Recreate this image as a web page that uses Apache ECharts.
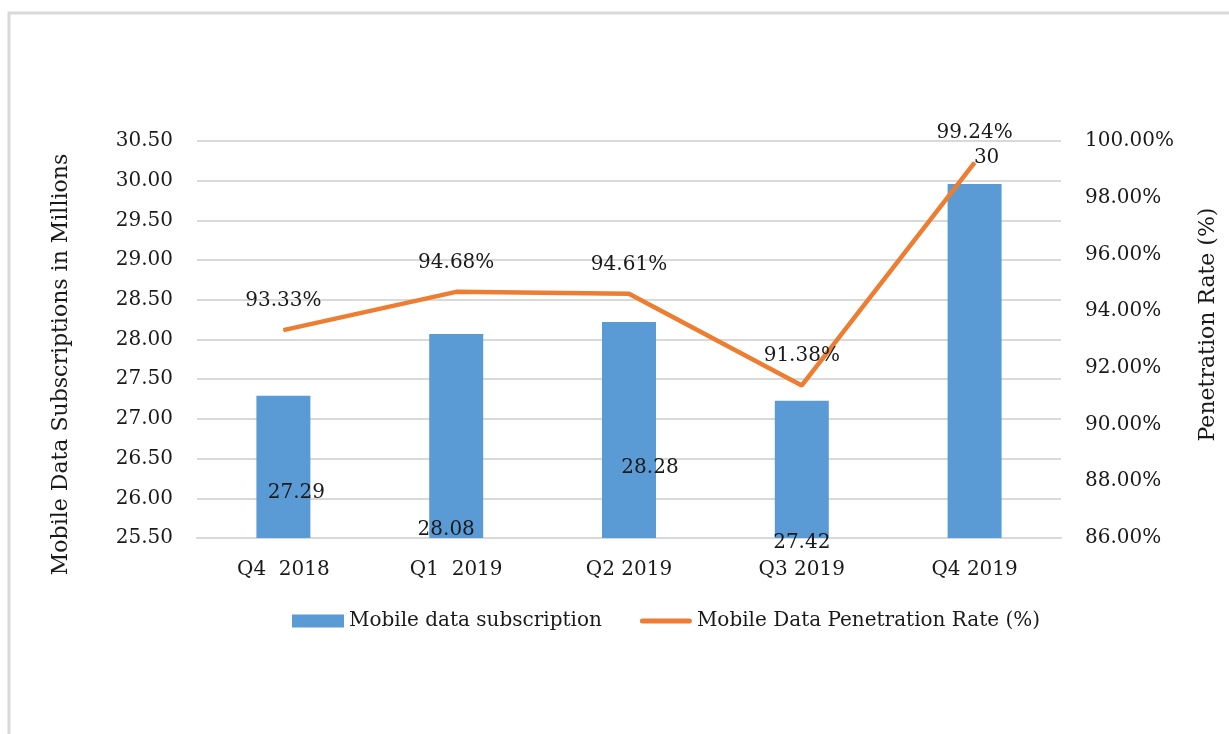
<!DOCTYPE html>
<html>
<head>
<meta charset="utf-8">
<script src="https://cdn.jsdelivr.net/npm/echarts@6/dist/echarts.min.js"></script>
<style>
  html, body { margin: 0; padding: 0; background: #fff; }
  #chart { width: 1229px; height: 734px; }
</style>
</head>
<body>
<div id="chart"></div>
<script>
const quarters = ['Q4  2018', 'Q1  2019', 'Q2 2019', 'Q3 2019', 'Q4 2019'];
// bar heights as drawn, and the labels printed on them
const subscriptions = [27.29, 28.07, 28.22, 27.23, 29.96];
const subscriptionLabels = ['27.29', '28.08', '28.28', '27.42', '30'];
const penetrationRate = [93.33, 94.68, 94.61, 91.38, 99.24];

// where each bar label sits (the source chart had them dragged around)
const barLabelNudge = [
  { position: 'insideBottom', offset: [13, -30] },
  { position: 'insideBottom', offset: [-10, 7] },
  { position: 'insideBottom', offset: [21, -55] },
  { position: 'insideBottom', offset: [0, 20] },
  { position: 'top', offset: [12, -11] }
];

const FONT = 'DejaVu Serif';
const TXT = '#1a1a1a';

const chart = echarts.init(document.getElementById('chart'));

chart.setOption({
  animation: false,
  backgroundColor: '#fff',
  textStyle: { fontFamily: FONT, color: TXT },
  graphic: [{
    type: 'rect',
    shape: { x: 9, y: 13, width: 1240, height: 800 },
    style: { fill: 'none', stroke: '#d9d9d9', lineWidth: 3 },
    silent: true
  }],
  grid: { left: 197, right: 168, top: 141, bottom: 196 },
  legend: {
    left: 287,
    top: 606,
    itemWidth: 52,
    itemHeight: 13,
    itemGap: 38,
    textStyle: { fontFamily: FONT, fontSize: 20, color: TXT },
    data: [
      { name: 'Mobile data subscription', icon: 'rect' },
      {
        name: 'Mobile Data Penetration Rate (%)',
        icon: 'path://M2.5,0 L49.5,0 A2.5,2.5 0 0 1 49.5,5 L2.5,5 A2.5,2.5 0 0 1 2.5,0 Z',
        itemStyle: { color: '#ed7d31', borderWidth: 0 }
      }
    ]
  },
  xAxis: {
    type: 'category',
    data: quarters,
    axisLine: { lineStyle: { color: '#d9d9d9', width: 2 } },
    axisTick: { show: false },
    axisLabel: { fontFamily: FONT, fontSize: 20, color: TXT, margin: 22 }
  },
  yAxis: [
    {
      type: 'value',
      min: 25.5,
      max: 30.5,
      interval: 0.5,
      name: 'Mobile Data Subscriptions in Millions',
      nameLocation: 'middle',
      nameGap: 125,
      nameTextStyle: { fontFamily: FONT, fontSize: 22, color: TXT, padding: [0, 50, 0, 0] },
      axisLine: { show: false },
      axisTick: { show: false },
      splitLine: { lineStyle: { color: '#d9d9d9', width: 2 } },
      axisLabel: {
        fontFamily: FONT, fontSize: 20, color: TXT, margin: 24,
        formatter: v => v.toFixed(2)
      }
    },
    {
      type: 'value',
      min: 86,
      max: 100,
      interval: 2,
      name: 'Penetration Rate (%)',
      nameLocation: 'middle',
      nameGap: 136,
      nameTextStyle: { fontFamily: FONT, fontSize: 22, color: TXT, padding: [0, 0, 0, 30] },
      axisLine: { show: false },
      axisTick: { show: false },
      splitLine: { show: false },
      axisLabel: {
        fontFamily: FONT, fontSize: 20, color: TXT, margin: 24,
        formatter: v => v.toFixed(2) + '%'
      }
    }
  ],
  series: [
    {
      name: 'Mobile data subscription',
      type: 'bar',
      barWidth: 54,
      itemStyle: { color: '#5b9bd5' },
      data: subscriptions.map((v, i) => ({
        value: v,
        label: {
          show: true,
          position: barLabelNudge[i].position,
          offset: barLabelNudge[i].offset,
          formatter: subscriptionLabels[i],
          fontFamily: FONT,
          fontSize: 20,
          color: TXT
        }
      }))
    },
    {
      name: 'Mobile Data Penetration Rate (%)',
      type: 'line',
      yAxisIndex: 1,
      symbol: 'circle',
      symbolSize: 1,
      itemStyle: { color: '#ed7d31' },
      lineStyle: { color: '#ed7d31', width: 4.5 },
      label: {
        show: true,
        position: 'top',
        distance: 19,
        fontFamily: FONT,
        fontSize: 20,
        color: TXT,
        formatter: p => p.value.toFixed(2) + '%'
      },
      data: penetrationRate
    }
  ]
});
</script>
</body>
</html>
